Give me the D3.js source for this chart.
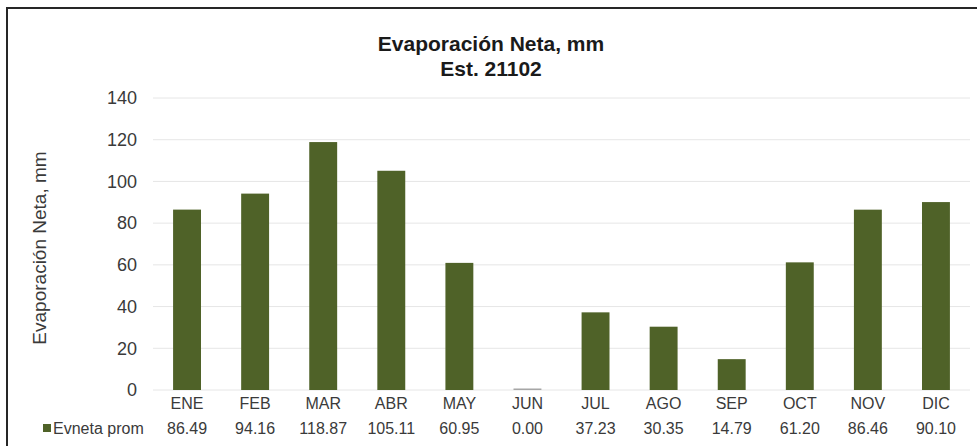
<!DOCTYPE html>
<html>
<head>
<meta charset="utf-8">
<script src="https://cdn.jsdelivr.net/npm/d3@7"></script>
<style>
  html, body { margin: 0; padding: 0; background: #fff; }
  svg { display: block; font-family: "Liberation Sans", Arial, sans-serif; }
</style>
</head>
<body>
<svg id="chart" width="977" height="446"></svg>
<script>
const categories = ["ENE","FEB","MAR","ABR","MAY","JUN","JUL","AGO","SEP","OCT","NOV","DIC"];
const values = [86.49, 94.16, 118.87, 105.11, 60.95, 0.00, 37.23, 30.35, 14.79, 61.20, 86.46, 90.10];
const valueLabels = ["86.49","94.16","118.87","105.11","60.95","0.00","37.23","30.35","14.79","61.20","86.46","90.10"];
const yTicks = [0, 20, 40, 60, 80, 100, 120, 140];
const seriesName = "Evneta prom";
const titleLines = ["Evaporación Neta, mm", "Est. 21102"];
const yAxisTitle = "Evaporación Neta, mm";

const svg = d3.select("#chart");
const plot = { left: 153, right: 970, top: 98, bottom: 390 };
const barColor = "#4f6228";
const textColor = "#3a3a3a";

// outer frame
svg.append("rect").attr("x", 7).attr("y", 8).attr("width", 1000).attr("height", 500)
  .attr("fill", "#fff").attr("stroke", "#262626").attr("stroke-width", 2);

const x = d3.scaleBand().domain(categories).range([plot.left, plot.right]).paddingInner(0.59).paddingOuter(0.295);
const y = d3.scaleLinear().domain([0, 140]).range([plot.bottom, plot.top]);

// gridlines
svg.append("g").selectAll("line").data(yTicks).join("line")
  .attr("x1", plot.left).attr("x2", plot.right)
  .attr("y1", d => y(d)).attr("y2", d => y(d))
  .attr("stroke", "#e6e6e6").attr("stroke-width", 1);

// y axis labels
const yAxis = d3.axisLeft(y).tickValues(yTicks).tickSize(0).tickPadding(0);
const gy = svg.append("g").attr("transform", `translate(${plot.left - 16},0)`).call(yAxis);
gy.select(".domain").remove();
gy.selectAll("text").attr("font-size", 18).attr("fill", textColor)
  .attr("font-family", "Liberation Sans, Arial, sans-serif");

// bars
svg.append("g").selectAll("rect").data(values).join("rect")
  .attr("x", (d, i) => x(categories[i]))
  .attr("width", x.bandwidth())
  .attr("y", d => d > 0 ? y(d) : y(0) - 1.5)
  .attr("height", d => d > 0 ? y(0) - y(d) : 1.5)
  .attr("fill", d => d > 0 ? barColor : "#a6a6a6");

// category labels (data table row 1)
svg.append("g").selectAll("text").data(categories).join("text")
  .attr("x", d => x(d) + x.bandwidth() / 2)
  .attr("y", 409)
  .attr("text-anchor", "middle")
  .attr("font-size", 16).attr("fill", textColor)
  .text(d => d);

// values row
svg.append("g").selectAll("text").data(valueLabels).join("text")
  .attr("x", (d, i) => x(categories[i]) + x.bandwidth() / 2)
  .attr("y", 434)
  .attr("text-anchor", "middle")
  .attr("font-size", 16).attr("fill", textColor)
  .text(d => d);

// legend key in table
svg.append("rect").attr("x", 43).attr("y", 424).attr("width", 8).attr("height", 8).attr("fill", barColor);
svg.append("text").attr("x", 53).attr("y", 434).attr("font-size", 16).attr("fill", textColor).text(seriesName);

// title
svg.append("g").selectAll("text").data(titleLines).join("text")
  .attr("x", 491).attr("y", (d, i) => 51 + i * 25)
  .attr("text-anchor", "middle")
  .attr("font-size", 21).attr("font-weight", "bold").attr("fill", "#1a1a1a")
  .text(d => d);

// y axis title
svg.append("text")
  .attr("transform", `translate(46,${(plot.top + plot.bottom) / 2 + 4}) rotate(-90)`)
  .attr("text-anchor", "middle")
  .attr("font-size", 19).attr("fill", textColor)
  .text(yAxisTitle);
</script>
</body>
</html>
